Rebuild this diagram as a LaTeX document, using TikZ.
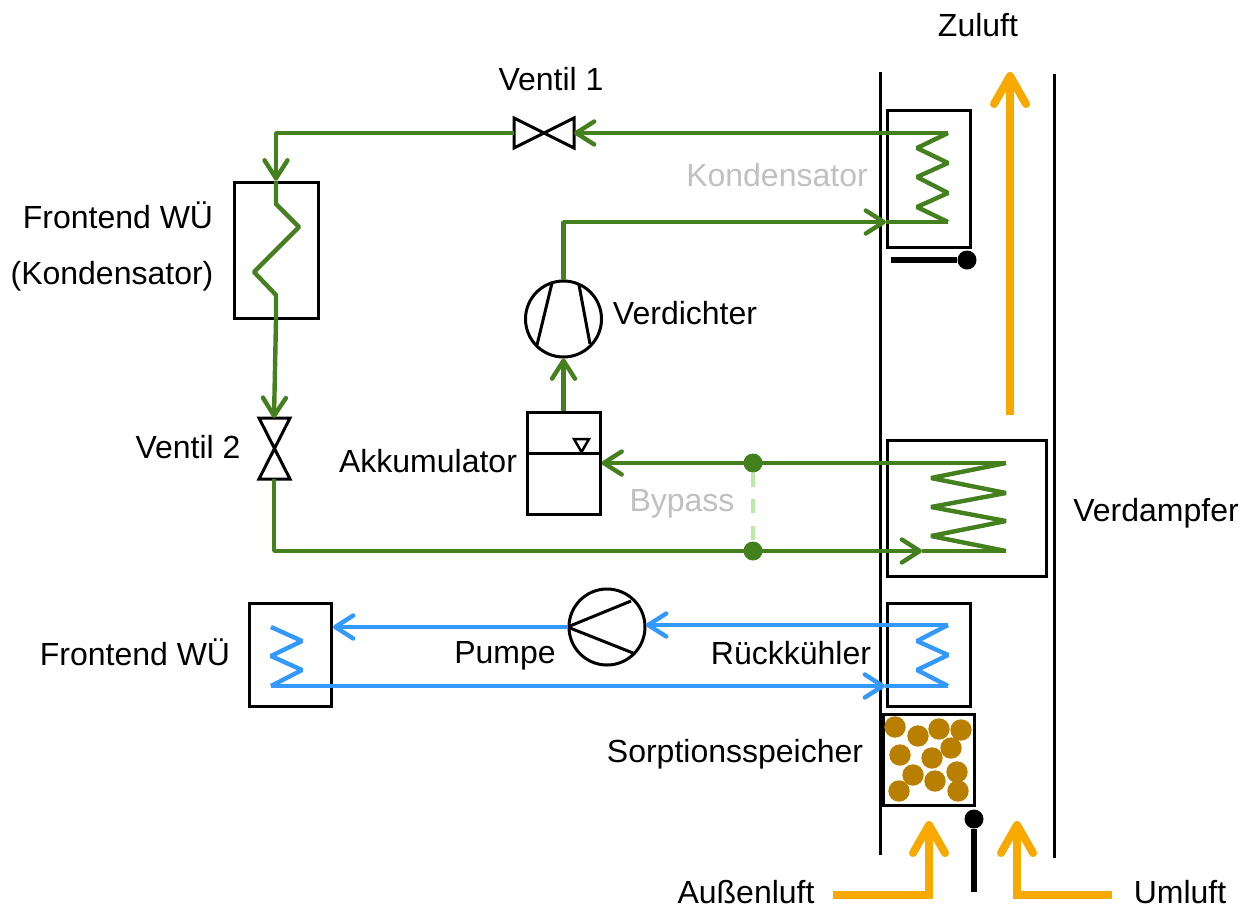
\documentclass[tikz,border=0pt]{standalone}
\usepackage{fontspec}
\setmainfont{Liberation Sans}
\usetikzlibrary{arrows.meta}
\definecolor{pipegreen}{HTML}{45801E}
\definecolor{pipeblue}{HTML}{3399FF}
\definecolor{airorange}{HTML}{F7A900}
\definecolor{granbrown}{HTML}{B97F00}
\definecolor{bypassgreen}{HTML}{B9EBA5}
\definecolor{softgrey}{HTML}{C0C0C0}
\tikzset{
    txt/.style={font=\fontsize{32}{36}\selectfont, anchor=base, inner sep=0pt},
    txtgrey/.style={txt, text=softgrey},
    box/.style={draw, line width=3pt, inner sep=0pt},
    round/.style={box, circle, minimum size=76pt},
    wall/.style={line width=3pt},
    thin/.style={line width=3pt},
    gpipe/.style={line width=4.4pt, pipegreen, line join=bevel, >={Straight Barb[length=18pt,width=23pt,round]}},
    bpipe/.style={line width=4.4pt, pipeblue, line join=bevel, >={Straight Barb[length=18pt,width=23pt,round]}},
    air/.style={line width=8pt, airorange, >={Straight Barb[length=28pt,width=32pt,round]}},
    flap/.style={line width=6pt, black},
    knot/.style={circle, fill=pipegreen, inner sep=0pt, minimum size=19pt},
    pin/.style={circle, fill=black, inner sep=0pt, minimum size=19pt},
    granule/.style={fill=granbrown},
}
\begin{document}
\begin{tikzpicture}[x=1pt,y=-1pt]
                \useasboundingbox (0,0) rectangle (1253,906);

                \coordinate (V1R) at (574,133);
                \coordinate (V1L) at (514,133);
                \coordinate (V2T) at (274,418);
                \coordinate (V2B) at (274,479);
                \coordinate (KondTop) at (948,133);
                \coordinate (KondBot) at (948,222);
                \coordinate (KondIn) at (886,222);
                \coordinate (VerdTop) at (1006,463);
                \coordinate (VerdBot) at (1006,551);
                \coordinate (VerdIn) at (922,551);
                \coordinate (RueckTop) at (948,625);
                \coordinate (RueckBot) at (948,686);
                \coordinate (RueckIn) at (885,686);
                \coordinate (PumpIn) at (646,625);
                \coordinate (FrontTop) at (271,627);
                \coordinate (FrontBot) at (271,686);
                \coordinate (FrontOut) at (333,627);

                \draw[wall] (880,72) -- (880,855);
                \draw[wall] (1054,74) -- (1054,858);

                \node [box, minimum width=83pt, minimum height=137pt] (Kond) at (928.5,178.5) {};
                \node [box, minimum width=159pt, minimum height=136pt] (Verd) at (966.5,508) {};
                \node [box, minimum width=83pt, minimum height=103pt] (Rueck) at (928.5,654.5) {};
                \node [box, minimum width=91pt, minimum height=91pt] (Sorp) at (928.5,759.5) {};
                \node [box, minimum width=84pt, minimum height=136pt] (FrontK) at (276,250) {};
                \node [box, minimum width=82pt, minimum height=103pt] (FrontW) at (290,654.5) {};
                \node [box, minimum width=73pt, minimum height=102pt] (Akku) at (563.5,463) {};
                \node [round] (Verdichter) at (563.5,319) {};
                \node [round] (Pumpe) at (607,627) {};

                \draw[thin] (Akku.west |- 0,453) -- (Akku.east |- 0,453);
                \draw[line width=2.5pt] (574,439) -- (589,439) -- (581.5,452) -- cycle;
                \draw[thin] (552,283) -- (537,345);
                \draw[thin] (579,285) -- (590,344);
                \draw[thin] (Pumpe.west) -- (631,601);
                \draw[thin] (Pumpe.west) -- (633,653);
                \draw[thin] (V1L |- 0,118) -- (V1R |- 0,148) -- (V1R |- 0,118) -- (V1L |- 0,148) -- cycle;
                \draw[thin] (259,418) -- (290,418) -- (259,479) -- (290,479) -- cycle;

                \draw[gpipe] (KondTop) -- (917,148) -- (948,163) -- (917,177) -- (948,193) -- (917,207) -- (KondBot);
                \draw[gpipe] (VerdTop) -- (931,478) -- (1006,493) -- (931,507) -- (1006,521) -- (931,536) -- (VerdBot);
                \draw[gpipe] (FrontK.north) -- (276,204) -- (299,227) -- (254,272) -- (276,295) -- (FrontK.south);
                \draw[bpipe] (RueckTop) -- (917,641) -- (948,655) -- (917,670) -- (RueckBot);
                \draw[bpipe] (FrontTop) -- (302,641) -- (271,656) -- (302,670) -- (FrontBot);

                \node [knot] (BypassTop) at (753,463) {};
                \node [knot] (BypassBot) at (753,551) {};
                \draw[line width=3.5pt, bypassgreen, dash pattern=on 14pt off 12.5pt] (BypassTop) -- (BypassBot);

                \draw[gpipe,->] (KondTop) -- (V1R);
                \draw[gpipe,->] (V1L) -- (276,133) -- (FrontK.north);
                \draw[gpipe,->] (FrontK.south) -- (V2T);
                \draw[gpipe,->] (V2B) -- (274,551) -- (VerdIn);
                \draw[gpipe] (VerdIn) -- (VerdBot);
                \draw[gpipe,->] (VerdTop) -- (Akku.east);
                \draw[gpipe,->] (Akku.north) -- (Verdichter.south);
                \draw[gpipe,->] (Verdichter.north) -- (563.5,222) -- (KondIn);
                \draw[gpipe] (KondIn) -- (KondBot);

                \draw[bpipe,->] (RueckTop) -- (PumpIn);
                \draw[bpipe,->] (Pumpe.west) -- (FrontOut);
                \draw[bpipe,->] (FrontBot) -- (RueckIn);
                \draw[bpipe] (RueckIn) -- (RueckBot);

                \fill[granule] (895,727) circle (10.7);
                \fill[granule] (918,736) circle (10.7);
                \fill[granule] (939,729) circle (10.7);
                \fill[granule] (961,730) circle (10.7);
                \fill[granule] (951,748) circle (10.7);
                \fill[granule] (900,755) circle (10.7);
                \fill[granule] (932,758) circle (10.7);
                \fill[granule] (913,775) circle (10.7);
                \fill[granule] (935,781) circle (10.7);
                \fill[granule] (957,772) circle (10.7);
                \fill[granule] (958,791) circle (10.7);
                \fill[granule] (899,791) circle (10.7);

                \node [pin] (FlapTop) at (967,260) {};
                \node [pin] (FlapBot) at (974,819) {};
                \draw[flap] (891,260) -- (FlapTop);
                \draw[flap] (974,892) -- (FlapBot);

                \draw[air,->] (1010,415) -- (1010,72);
                \draw[air,->] (833,895) -- (929,895) -- (929,821);
                \draw[air,->] (1112,895) -- (1017,895) -- (1017,821);

                \node [txt] (Zuluft) at (978,36) {Zuluft};
                \node [txt] (Ventil1) at (551,90) {Ventil 1};
                \node [txt] (FrontA) at (118,228) {Frontend WÜ};
                \node [txt] (FrontB) at (112,284) {(Kondensator)};
                \node [txt] (Ventil2) at (188,458) {Ventil 2};
                \node [txt] (VerdichterT) at (685,324) {Verdichter};
                \node [txt] (AkkuT) at (428,472) {Akkumulator};
                \node [txtgrey] (BypassT) at (682,511) {Bypass};
                \node [txtgrey] (KondT) at (777,186) {Kondensator};
                \node [txt] (VerdT) at (1156,521) {Verdampfer};
                \node [txt] (FrontC) at (135,665) {Frontend WÜ};
                \node [txt] (PumpeT) at (505,663) {Pumpe};
                \node [txt] (RueckT) at (791,664) {Rückkühler};
                \node [txt] (SorpT) at (735,762) {Sorptionsspeicher};
                \node [txt] (Aussen) at (746,903) {Außenluft};
                \node [txt] (Umluft) at (1180,903) {Umluft};
\end{tikzpicture}
\end{document}
